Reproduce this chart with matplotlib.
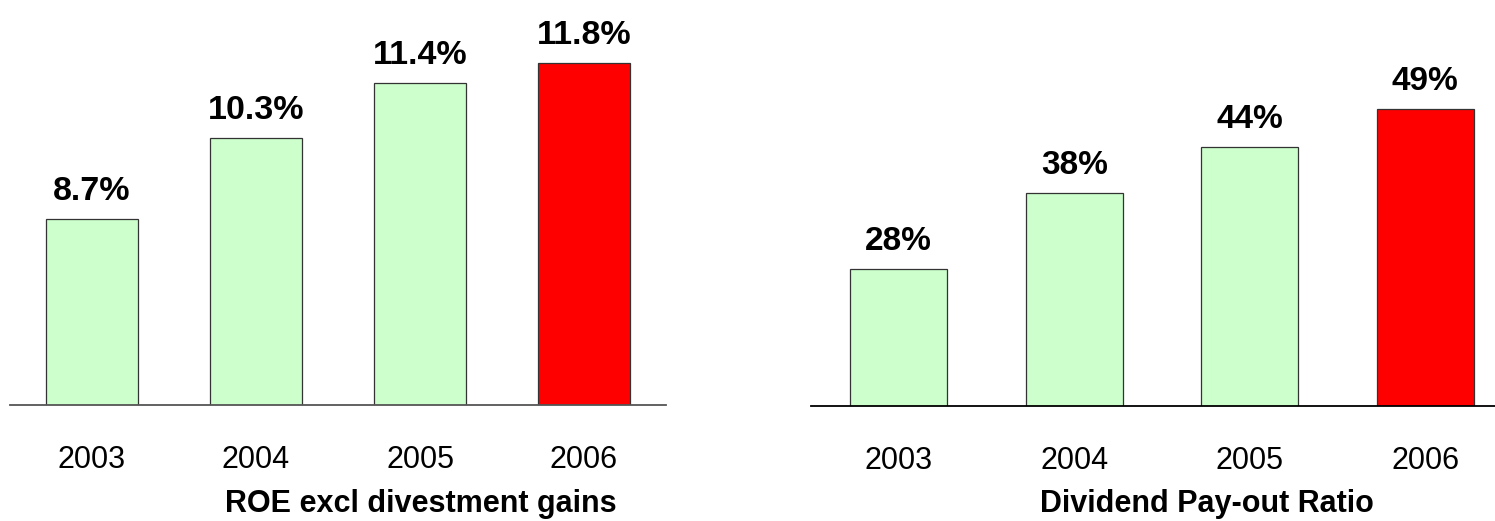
import matplotlib
matplotlib.use("Agg")
import matplotlib.pyplot as plt

plt.rcParams['font.family'] = ['Liberation Sans', 'DejaVu Sans']

years = ["2003", "2004", "2005", "2006"]
roe_values = [8.7, 10.3, 11.4, 11.8]
roe_labels = ["8.7%", "10.3%", "11.4%", "11.8%"]
payout_values = [28, 38, 44, 49]
payout_labels = ["28%", "38%", "44%", "49%"]
bar_colors = ["#CCFFCC", "#CCFFCC", "#CCFFCC", "#FF0000"]

W, H = 1495, 521
fig = plt.figure(figsize=(W / 100, H / 100), dpi=100)


def px_axes(left, right, base_y):
    # rectangle given in pixel coordinates (y measured from the top)
    return fig.add_axes([left / W, (H - base_y) / H, (right - left) / W, base_y / H])


def draw_panel(ax, values, labels, ymin, px_per_unit, base_y, line_color,
               value_size, title, title_x):
    x = range(len(years))
    ax.bar(x, values, width=0.555, color=bar_colors, edgecolor="#333333",
           linewidth=0.9, bottom=0, zorder=2)
    ax.set_xlim(-0.5, 3.5)
    ax.set_ylim(ymin, ymin + base_y / px_per_unit)
    for s in ("top", "right", "left"):
        ax.spines[s].set_visible(False)
    ax.spines["bottom"].set_color(line_color)
    ax.spines["bottom"].set_linewidth(1.3)
    ax.spines["bottom"].set_zorder(3)
    ax.set_xticks([])
    ax.set_yticks([])
    ax.patch.set_alpha(0)
    for i, (v, lab) in enumerate(zip(values, labels)):
        ax.annotate(lab, xy=(i, v), xytext=(0, 13.7), textcoords="offset points",
                    ha="center", va="baseline", fontsize=value_size,
                    fontweight="bold", color="black", annotation_clip=False)
        ax.annotate(years[i], xy=(i, 0), xycoords=("data", "axes fraction"),
                    xytext=(0, -45.4), textcoords="offset points",
                    ha="center", va="baseline", fontsize=22, color="black",
                    annotation_clip=False)
    fig.text(title_x / W, (H - 512) / H, title, ha="center", va="baseline",
             fontsize=22, fontweight="bold", color="black")


ax_roe = px_axes(10, 666, 405)
draw_panel(ax_roe, roe_values, roe_labels, 5.0, 50.3, 405, "#555555", 24.5,
           "ROE excl divestment gains", 421)

ax_pay = px_axes(811, 1513, 406)
draw_panel(ax_pay, payout_values, payout_labels, 10.0, 7.62, 406, "#000000", 24,
           "Dividend Pay-out Ratio", 1207)

fig.savefig("out.png", dpi=100)
